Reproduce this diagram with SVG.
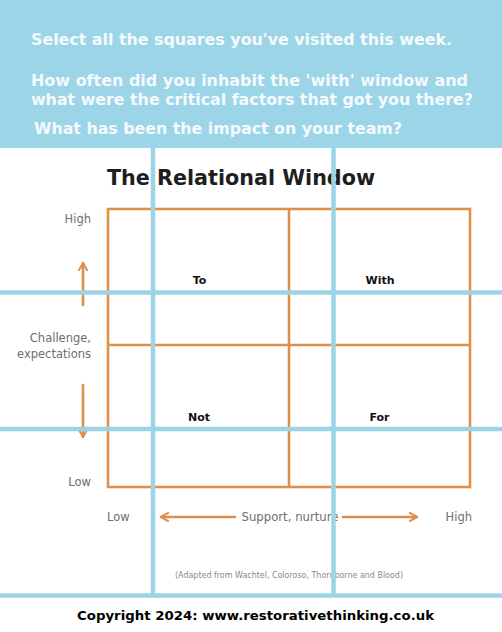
<svg xmlns="http://www.w3.org/2000/svg" width="502" height="632" viewBox="0 0 502 632">
<defs>
<style>
.q{font-family:"DejaVu Sans","Verdana",sans-serif;font-weight:bold;font-size:16px;fill:#F4FAFD}
.title{font-family:"DejaVu Sans",sans-serif;font-weight:bold;font-size:22px;fill:#1E1E1E}
.ax{font-family:"DejaVu Sans",sans-serif;font-size:11.5px;fill:#6E6E6E}
.cell{font-family:"DejaVu Sans",sans-serif;font-weight:bold;font-size:11px;fill:#111}
.grid{fill:none;stroke:#DF8F4A;stroke-width:2.6}
.arr{fill:none;stroke:#DF8F4A;stroke-width:2.6;stroke-linecap:round;stroke-linejoin:round}
.blue{stroke:#9CD4E7;stroke-width:4.5}
.copy{font-family:"DejaVu Sans",sans-serif;font-weight:bold;font-size:12.5px;fill:#000}
.src{font-family:"DejaVu Sans",sans-serif;font-size:8.5px;fill:#8A8A8A}
</style>
<marker id="ah" viewBox="0 0 10 10" refX="8" refY="5" markerWidth="4" markerHeight="4" orient="auto-start-reverse" markerUnits="strokeWidth">
<path d="M1,1 L8,5 L1,9" fill="none" stroke="#DF8F4A" stroke-width="2" stroke-linecap="round" stroke-linejoin="round"/>
</marker>
</defs>
<rect width="502" height="632" fill="#FFFFFF"/>
<rect id="header" x="0" y="0" width="502" height="148" fill="#9DD5E8"/>
<g id="questions">
<text class="q" x="31" y="45" textLength="421" lengthAdjust="spacingAndGlyphs">Select all the squares you've visited this week.</text>
<text class="q" x="31" y="86" textLength="437" lengthAdjust="spacingAndGlyphs">How often did you inhabit the 'with' window and</text>
<text class="q" x="31" y="105" textLength="442" lengthAdjust="spacingAndGlyphs">what were the critical factors that got you there?</text>
<text class="q" x="34" y="134" textLength="368" lengthAdjust="spacingAndGlyphs">What has been the impact on your team?</text>
</g>
<text id="title" class="title" x="107" y="185" textLength="268" lengthAdjust="spacingAndGlyphs">The Relational Window</text>
<g id="grid">
<rect class="grid" x="108" y="209" width="362" height="278"/>
<line class="grid" x1="289" y1="209" x2="289" y2="487"/>
<line class="grid" x1="108" y1="345" x2="470" y2="345"/>
</g>
<g id="cell-to"><text class="cell" x="199.5" y="284" text-anchor="middle">To</text></g>
<g id="cell-with"><text class="cell" x="380" y="284" text-anchor="middle">With</text></g>
<g id="cell-not"><text class="cell" x="199" y="421" text-anchor="middle">Not</text></g>
<g id="cell-for"><text class="cell" x="379.5" y="421" text-anchor="middle">For</text></g>
<g id="axes">
<text class="ax" x="91" y="223" text-anchor="end">High</text>
<text class="ax" x="91" y="342" text-anchor="end">Challenge,</text>
<text class="ax" x="91" y="358" text-anchor="end">expectations</text>
<text class="ax" x="91" y="486" text-anchor="end">Low</text>
<text class="ax" x="107" y="521">Low</text>
<text class="ax" x="472" y="521" text-anchor="end">High</text>
<text class="ax" x="290" y="521" text-anchor="middle" textLength="97" lengthAdjust="spacingAndGlyphs">Support, nurture</text>
</g>
<g id="connectors">
<line class="arr" x1="83" y1="305" x2="83" y2="263" marker-end="url(#ah)"/>
<line class="arr" x1="83" y1="385" x2="83" y2="437" marker-end="url(#ah)"/>
<line class="arr" x1="235" y1="517" x2="161" y2="517" marker-end="url(#ah)"/>
<line class="arr" x1="343" y1="517" x2="417" y2="517" marker-end="url(#ah)"/>
</g>
<text id="source" class="src" x="289" y="578" text-anchor="middle" textLength="228" lengthAdjust="spacingAndGlyphs">(Adapted from Wachtel, Coloroso, Thornborne and Blood)</text>
<g id="overlay-lines">
<line class="blue" x1="153" y1="148" x2="153" y2="597"/>
<line class="blue" x1="333.5" y1="148" x2="333.5" y2="597"/>
<line class="blue" x1="0" y1="292.5" x2="502" y2="292.5"/>
<line class="blue" x1="0" y1="429" x2="502" y2="429"/>
<line class="blue" x1="0" y1="595.5" x2="502" y2="595.5"/>
</g>
<text id="copyright" class="copy" x="77" y="620" textLength="357" lengthAdjust="spacingAndGlyphs">Copyright 2024: www.restorativethinking.co.uk</text>
</svg>
